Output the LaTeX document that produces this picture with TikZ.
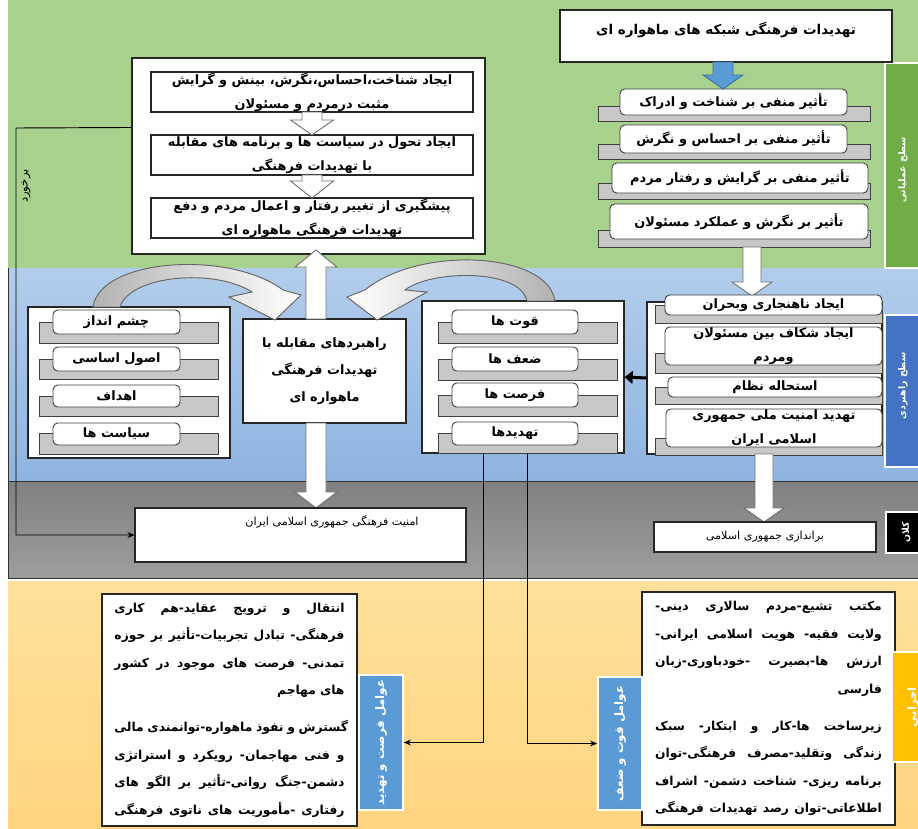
\documentclass[tikz,border=0pt]{standalone}
\usepackage{fontspec}
\usetikzlibrary{calc,arrows.meta}
\TeXXeTstate=1
\newfontfamily\arabicfont[Script=Arabic]{DejaVu Sans}
\newcommand\fa[1]{{\arabicfont\bfseries\beginR #1\endR}}
\newcommand\fan[1]{{\arabicfont\beginR #1\endR}}
\newcommand\jl[1]{\noindent\hbox to \hsize{\arabicfont\bfseries\spaceskip=0.3em plus 6em\relax\beginR #1\endR}}
\newcommand\fs[2]{\fontsize{#1}{#2}\selectfont}
\definecolor{greenband}{RGB}{169,209,142}
\definecolor{greenlabel}{RGB}{112,173,71}
\definecolor{blueT}{RGB}{178,205,236}
\definecolor{blueB}{RGB}{142,180,224}
\definecolor{grayT}{RGB}{128,128,128}
\definecolor{grayB}{RGB}{158,158,158}
\definecolor{orT}{RGB}{255,224,155}
\definecolor{orB}{RGB}{255,212,128}
\definecolor{bluelabel}{RGB}{68,114,196}
\definecolor{bluebox}{RGB}{91,155,213}
\definecolor{orlabel}{RGB}{255,192,0}
\definecolor{bluearrowline}{RGB}{65,113,156}
\newcommand\bx[7]{\node[#1, minimum width={(#4-#2)*0.03cm}, minimum height={(#5-#3)*0.03cm}] (#6) at ({(#2+#4)/2},{(#3+#5)/2}) {#7};}
\newcommand\harrow[7]{\filldraw[#1] ({#2-#5/2},#3) -- ({#2+#5/2},#3) -- ({#2+#5/2},{#4-#7}) -- ({#2+#6/2},{#4-#7}) -- (#2,#4) -- ({#2-#6/2},{#4-#7}) -- ({#2-#5/2},{#4-#7}) -- cycle;}
\tikzset{
 wbox/.style={draw=black!85, fill=white, line width=0.9pt, inner sep=0pt},
 plaq/.style={draw=black!75, fill=white, rounded corners=4pt, line width=0.8pt, inner sep=0pt, font=\fs{11}{13}},
 sbar/.style={draw=black!75, fill=black!22, line width=0.8pt, inner sep=0pt},
 hollow/.style={draw=black!55, fill=white, line width=0.8pt},
 bluearrow/.style={draw=bluearrowline, fill=bluebox, line width=0.8pt},
 conn/.style={draw=black, line width=0.8pt, -{Stealth[length=6pt,width=5pt]}},
 vlabel/.style={draw=white, line width=1.5pt, inner sep=0pt},
 vtext/.style={rotate=90, text=white, inner sep=0pt}
}
\begin{document}
\begin{tikzpicture}[x=0.03cm,y=-0.03cm]
\useasboundingbox (0,0) rectangle (918,828);
% bands
\fill[greenband] (8,0) rectangle (930,268);
\shade[top color=blueT, bottom color=blueB] (8,268) rectangle (930,481);
\shadedraw[top color=grayT, bottom color=grayB, draw=black!80, line width=0.8pt] (8,481) rectangle (930,578);
\shade[top color=orT, bottom color=orB] (8,581) rectangle (930,840);
\draw[black!80, line width=0.8pt] (8,268) -- (8,481);
% side labels
\bx{vlabel, fill=greenlabel}{885}{63}{922}{268}{gl}{}
\node[vtext, font=\fs{8}{10}] (glt) at (903,170) {\fa{سطح عملیاتی}};
\bx{vlabel, fill=bluelabel}{885}{315}{922}{467}{bl}{}
\node[vtext, font=\fs{8}{10}] (blt) at (903,386) {\fa{سطح راهبردی}};
\bx{vlabel, fill=black}{886}{512}{922}{553}{kl}{}
\node[vtext, font=\fs{8}{10}] (klt) at (906,532) {\fa{کلان}};
% top-left block
\bx{wbox}{132}{58}{485}{254}{tl}{}
\bx{wbox,align=center,font=\fs{11}{20}}{151}{72}{473}{112}{a1}{\fa{ایجاد شناخت،احساس،نگرش، بینش و گرایش}\\\fa{مثبت درمردم و مسئولان}}
\bx{wbox,align=center,font=\fs{11}{20}}{151}{135}{473}{175}{a2}{\fa{ایجاد تحول در سیاست ها و برنامه های مقابله}\\\fa{با تهدیدات فرهنگی}}
\bx{wbox,align=center,font=\fs{11}{20}}{151}{198}{473}{238}{a3}{\fa{پیشگیری از تغییر رفتار و اعمال مردم و دفع}\\\fa{تهدیدات فرهنگی ماهواره ای}}
\harrow{hollow}{312}{112}{135}{20}{43}{15}
\harrow{hollow}{312}{175}{198}{20}{43}{17}
% top-right block
\bx{wbox}{560}{10}{892}{62}{tr}{}
\node[font=\fs{11.5}{13}] (trt) at (726,30) {\fa{تهدیدات فرهنگی شبکه های ماهواره ای}};
\bx{sbar}{598}{106}{870}{121}{p1s}{}
\bx{plaq}{620}{89}{847}{115}{p1}{\fa{تأثیر منفی بر شناخت و ادراک}}
\bx{sbar}{598}{144}{870}{159}{p2s}{}
\bx{plaq}{620}{125}{847}{153}{p2}{\fa{تأثیر منفی بر احساس و نگرش}}
\bx{sbar}{598}{183}{870}{199}{p3s}{}
\bx{plaq}{612}{163}{868}{193}{p3}{\fa{تأثیر منفی   بر گرایش  و رفتار مردم}}
\bx{sbar}{598}{230}{870}{247}{p4s}{}
\bx{plaq}{610}{204}{868}{239}{p4}{\fa{تأثیر بر نگرش و عملکرد مسئولان}}
\harrow{bluearrow}{723}{62}{89}{20}{40}{14}
\harrow{hollow}{752}{247}{296}{18}{40}{14}
% right strategic group
\bx{wbox}{647}{302}{882}{454}{rg}{}
\bx{sbar}{655}{305}{882}{323}{r1s}{}
\bx{plaq}{665}{295}{882}{315}{r1}{\fa{ایجاد ناهنجاری وبحران}}
\bx{sbar}{655}{353}{882}{373}{r2s}{}
\bx{plaq,align=center,font=\fs{11}{21}}{665}{327}{882}{365}{r2}{\fa{ایجاد شکاف بین   مسئولان}\\\fa{ومردم}}
\bx{sbar}{655}{387}{882}{404}{r3s}{}
\bx{plaq}{668}{377}{882}{397}{r3}{\fa{استحاله نظام}}
\bx{sbar}{655}{438}{882}{455}{r4s}{}
\bx{plaq,align=center,font=\fs{11}{21}}{666}{409}{882}{447}{r4}{\fa{تهدید امنیت ملی جمهوری}\\\fa{اسلامی ایران}}
% left panel
\bx{wbox}{28}{307}{230}{458}{lp}{}
\bx{sbar}{39}{322}{218}{343}{l1s}{}
\bx{plaq}{53}{310}{180}{334}{l1}{\fa{چشم انداز}}
\bx{sbar}{39}{359}{218}{379}{l2s}{}
\bx{plaq}{53}{347}{180}{371}{l2}{\fa{اصول اساسی}}
\bx{sbar}{39}{396}{218}{416}{l3s}{}
\bx{plaq}{53}{385}{180}{407}{l3}{\fa{اهداف}}
\bx{sbar}{39}{433}{218}{454}{l4s}{}
\bx{plaq}{53}{423}{180}{445}{l4}{\fa{سیاست ها}}
% SWOT panel
\bx{wbox}{422}{301}{624}{453}{sw}{}
\bx{sbar}{438}{322}{617}{343}{s1s}{}
\bx{plaq}{452}{310}{578}{334}{s1}{\fa{قوت ها}}
\bx{sbar}{438}{359}{617}{380}{s2s}{}
\bx{plaq}{452}{347}{578}{371}{s2}{\fa{ضعف ها}}
\bx{sbar}{438}{395}{617}{416}{s3s}{}
\bx{plaq}{452}{383}{578}{407}{s3}{\fa{فرصت ها}}
\bx{sbar}{438}{433}{617}{453}{s4s}{}
\bx{plaq}{452}{422}{578}{445}{s4}{\fa{تهدیدها}}
% centre
\bx{wbox,align=center,font=\fs{11}{23}}{243}{319}{406}{423}{rb}{\fa{راهبردهای مقابله با}\\\fa{تهدیدات فرهنگی}\\\fa{ماهواره ای}}
% curved arrows
\shadedraw[left color=black!30, right color=white, draw=black!60, line width=0.8pt]
 (93,307) .. controls (100,258) and (230,250) .. (283,290) -- (301,295) -- (275,320) -- (229,297) -- (252,292) .. controls (215,268) and (130,275) .. (120,307) -- cycle;
\shadedraw[right color=black!30, left color=white, draw=black!60, line width=0.8pt]
 (555,301) .. controls (548,252) and (420,245) .. (365,290) -- (347,297) -- (377,320) -- (427,292) -- (405,290) .. controls (430,270) and (520,268) .. (527,301) -- cycle;
% vertical hollow arrows
\harrow{hollow}{316}{319}{250}{20}{42}{-17}
\harrow{hollow}{316}{423}{508}{20}{42}{16}
\harrow{hollow}{764}{454}{522}{18}{40}{14}
% macro level
\bx{wbox}{135}{508}{466}{562}{am}{}
\node[font=\fs{9.5}{11}] (amt) at (332,522) {\fan{امنیت فرهنگی جمهوری اسلامی  ایران}};
\bx{wbox,font=\fs{9.5}{11}}{654}{522}{876}{552}{bd}{\fan{براندازی جمهوری اسلامی}}
% small black arrow
\draw[line width=2.6pt, -{Triangle[length=7pt,width=11pt]}] (rg.west) -- (sw.east);
% confrontation loop
\coordinate (bk) at (16,128);
\draw[conn] ($(tl.north west)+(0,70)$) -- (bk) |- (am.west);
\node[rotate=90, font=\fs{10}{12}, inner sep=0pt] (brk) at (26,186) {\fan{برخورد}};
% executive level
\bx{wbox, text width=6.9cm, align=right, font=\fs{10.5}{23.5}}{102}{594}{357}{826}{ft}{\jl{انتقال و ترویج عقاید-هم کاری}\\\jl{فرهنگی- تبادل تجربیات-تأثیر بر حوزه}\\\jl{تمدنی- فرصت های موجود در کشور}\\\fa{های مهاجم}\\[8pt]\jl{گسترش و نفوذ ماهواره-توانمندی مالی}\\\jl{و فنی مهاجمان- رویکرد و استراتژی}\\\jl{دشمن-جنگ روانی-تأثیر بر الگو های}\\\jl{رفتاری -مأموریت های ناتوی فرهنگی}}
\bx{wbox, text width=6.8cm, align=right, font=\fs{10.5}{23.5}}{642}{592}{895}{825}{qt}{\jl{مکتب تشیع-مردم سالاری دینی-}\\\jl{ولایت فقیه- هویت اسلامی ایرانی-}\\\jl{ارزش ها-بصیرت -خودباوری-زبان}\\\fa{فارسی}\\[8pt]\jl{زیرساخت ها-کار و ابتکار- سبک}\\\jl{زندگی وتقلید-مصرف فرهنگی-توان}\\\jl{برنامه ریزی- شناخت دشمن- اشراف}\\\jl{اطلاعاتی-توان رصد تهدیدات فرهنگی}}
\bx{vlabel, fill=bluebox}{359}{675}{403}{810}{fl}{}
\node[vtext, font=\fs{10}{12}] (flt) at (fl.center) {\fa{عوامل فرصت و تهدید}};
\bx{vlabel, fill=bluebox}{598}{677}{642}{810}{ql}{}
\node[vtext, font=\fs{10}{12}] (qlt) at (ql.center) {\fa{عوامل قوت و ضعف}};
\bx{vlabel, fill=orlabel}{892}{652}{922}{762}{ej}{}
\node[vtext, font=\fs{10}{12}] (ejt) at (913,707) {\fa{اجرایی}};
\draw[conn] ([xshift=-1.2cm]sw.south) |- (fl.east);
\draw[conn] ([xshift=0.12cm]sw.south) |- (ql.west);
\end{tikzpicture}
\end{document}
